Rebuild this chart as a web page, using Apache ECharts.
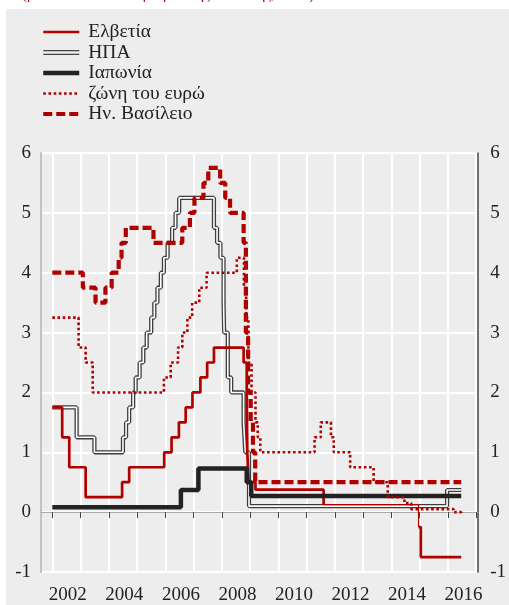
<!DOCTYPE html>
<html>
<head>
<meta charset="utf-8">
<script src="https://cdn.jsdelivr.net/npm/echarts@6/dist/echarts.min.js"></script>
<style>
  html, body { margin: 0; padding: 0; background: #fff; }
  #chart { width: 509px; height: 605px; }
</style>
</head>
<body>
<div id="chart"></div>
<script>
// επιτόκια πολιτικής: [έτος (δεκαδικό), επιτόκιο %] — κάθε τιμή ισχύει από εκείνο το σημείο και μετά
const swissRates = [
    [2002.0, 1.75], [2002.35, 1.25], [2002.6, 0.75], [2003.18, 0.25], [2004.47, 0.5],
    [2004.72, 0.75], [2005.96, 1.0], [2006.22, 1.25], [2006.48, 1.5], [2006.72, 1.75],
    [2006.96, 2.0], [2007.24, 2.25], [2007.48, 2.5], [2007.72, 2.75], [2008.77, 2.5],
    [2008.88, 2.0], [2008.9, 1.0], [2008.95, 0.5], [2009.19, 0.375], [2011.6, 0.125],
    [2014.96, -0.25], [2015.04, -0.75], [2016.47, -0.75]
];
const usRates = [
    [2002.0, 1.75], [2002.86, 1.25], [2003.49, 1.0], [2004.5, 1.25], [2004.61, 1.5],
    [2004.72, 1.75], [2004.86, 2.0], [2004.95, 2.25], [2005.09, 2.5], [2005.22, 2.75],
    [2005.34, 3.0], [2005.5, 3.25], [2005.61, 3.5], [2005.72, 3.75], [2005.84, 4.0],
    [2005.95, 4.25], [2006.08, 4.5], [2006.24, 4.75], [2006.36, 5.0], [2006.49, 5.25],
    [2007.72, 4.75], [2007.83, 4.5], [2007.95, 4.25], [2008.06, 3.5], [2008.08, 3.0],
    [2008.21, 2.25], [2008.33, 2.0], [2008.77, 1.5], [2008.83, 1.0], [2008.96, 0.1],
    [2015.97, 0.37], [2016.47, 0.37]
];
const japanRates = [
    [2002.0, 0.08], [2006.55, 0.37], [2007.17, 0.73], [2008.88, 0.5], [2009.04, 0.27],
    [2016.47, 0.27]
];
const euroRates = [
    [2002.0, 3.25], [2002.93, 2.75], [2003.18, 2.5], [2003.43, 2.0], [2005.95, 2.25],
    [2006.19, 2.5], [2006.45, 2.75], [2006.6, 3.0], [2006.78, 3.25], [2006.95, 3.5],
    [2007.2, 3.75], [2007.46, 4.0], [2008.53, 4.25], [2008.78, 3.75], [2008.86, 3.25],
    [2008.94, 2.5], [2009.05, 2.0], [2009.19, 1.5], [2009.27, 1.25], [2009.36, 1.0],
    [2011.28, 1.25], [2011.5, 1.5], [2011.86, 1.25], [2011.96, 1.0], [2012.54, 0.75],
    [2013.37, 0.5], [2013.87, 0.25], [2014.46, 0.15], [2014.7, 0.05], [2016.2, 0.0],
    [2016.47, -0.02]
];
const ukRates = [
    [2002.0, 4.0], [2003.08, 3.75], [2003.53, 3.5], [2003.88, 3.75], [2004.1, 4.0],
    [2004.35, 4.25], [2004.45, 4.5], [2004.6, 4.75], [2005.58, 4.5], [2006.6, 4.75],
    [2006.87, 5.0], [2007.03, 5.25], [2007.35, 5.5], [2007.52, 5.75], [2007.94, 5.5],
    [2008.12, 5.25], [2008.29, 5.0], [2008.77, 4.5], [2008.85, 3.0], [2008.93, 2.0],
    [2009.02, 1.5], [2009.1, 1.0], [2009.18, 0.5], [2016.47, 0.5]
];

const names = ['Ελβετία', 'ΗΠΑ', 'Ιαπωνία', 'ζώνη του ευρώ', 'Ην. Βασίλειο'];
const yearTicks = [2002, 2003, 2004, 2005, 2006, 2007, 2008, 2009, 2010, 2011, 2012, 2013, 2014, 2015, 2016, 2017];
const yearLabels = [2002, 2004, 2006, 2008, 2010, 2012, 2014, 2016];

const RED = '#b00000';
const FONT = 'Liberation Serif';

// το τμήμα 2011-2014 της Ελβετίας είναι λεπτότερο
const iThin = swissRates.findIndex(p => p[0] === 2011.6);
const iThick = swissRates.findIndex(p => p[0] === 2014.96);

function stepLine(name, data, color, width, type, z) {
    return {
        name: name,
        type: 'line',
        step: 'end',
        symbol: 'none',
        data: data,
        z: z,
        lineStyle: { color: color, width: width, type: type || 'solid', cap: 'butt' },
        itemStyle: { color: color },
        emphasis: { disabled: true }
    };
}

const chart = echarts.init(document.getElementById('chart'));

const option = {
    backgroundColor: '#ededed',
    animation: false,
    title: {
        text: '(βασικά επιτόκια νομισματικής πολιτικής, σε %)',
        left: 22,
        top: -12.5,
        padding: 0,
        textStyle: { fontFamily: FONT, fontSize: 15, fontWeight: 'normal', color: RED }
    },
    graphic: [
        { type: 'rect', left: 0, top: 0, shape: { width: 509, height: 9 }, style: { fill: '#fff' }, z: -1 },
        { type: 'rect', left: 0, top: 0, shape: { width: 6, height: 605 }, style: { fill: '#fff' }, z: -1 }
    ],
    legend: {
        orient: 'vertical',
        left: 41,
        top: 22,
        padding: 0,
        itemWidth: 36,
        itemHeight: 14,
        itemGap: 0.5,
        selectedMode: false,
        itemStyle: { opacity: 0 },
        data: [
            { name: names[0], lineStyle: { width: 2.7 } },
            {
                name: names[1],
                icon: 'path://M0,0H36V1.3H0Z M0,3.7H36V5H0Z M0,-4.5H0.01V9.5H0Z',
                itemStyle: { color: '#444', opacity: 1 }
            },
            { name: names[2], lineStyle: { width: 4.5 } },
            { name: names[3], lineStyle: { width: 2.6, type: [2.6, 2.6] } },
            { name: names[4], lineStyle: { width: 4.2, type: [9, 4] } }
        ],
        textStyle: { fontFamily: FONT, fontSize: 19.5, lineHeight: 20, color: '#222', padding: [0, 0, 0, 4] }
    },
    grid: { left: 41, right: 25, top: 153, bottom: 32, containLabel: false },
    xAxis: {
        type: 'value',
        min: 2001.6,
        max: 2017.07,
        offset: 3,
        axisLine: { show: true, lineStyle: { color: '#aaa', width: 1 } },
        axisTick: { show: true, customValues: yearTicks, length: 6, lineStyle: { color: '#444', width: 1 } },
        axisLabel: {
            customValues: yearLabels.map(y => y + 0.55),
            formatter: v => String(Math.floor(v)),
            fontFamily: FONT, fontSize: 19, color: '#222', margin: 11
        },
        splitLine: { show: true, lineStyle: { color: '#fff', width: 2 } }
    },
    yAxis: [
        {
            type: 'value', min: -1, max: 6, interval: 1,
            axisLine: { show: true, lineStyle: { color: '#c2c2c2', width: 2 } },
            axisTick: { show: false },
            axisLabel: { fontFamily: FONT, fontSize: 19, color: '#222', margin: 10 },
            splitLine: { show: true, lineStyle: { color: '#fff', width: 2 } }
        },
        {
            type: 'value', min: -1, max: 6, interval: 1, position: 'right',
            axisLine: { show: true, lineStyle: { color: '#444', width: 1.5 } },
            axisTick: { show: false },
            axisLabel: { fontFamily: FONT, fontSize: 19, color: '#222', margin: 12 },
            splitLine: { show: false }
        }
    ],
    series: [
        stepLine(names[1], usRates, '#3d3d3d', 4.2, 'solid', 2),
        stepLine(names[1], usRates, '#ffffff', 1.6, 'solid', 2),
        stepLine(names[0], swissRates.slice(0, iThin + 1), RED, 2.7, 'solid', 3),
        stepLine(names[0], swissRates.slice(iThin, iThick + 1), RED, 1.2, 'solid', 3),
        stepLine(names[0], swissRates.slice(iThick), RED, 2.7, 'solid', 3),
        stepLine(names[2], japanRates, '#222', 4.5, 'solid', 4),
        stepLine(names[3], euroRates, RED, 2.6, [2.6, 2.6], 5),
        stepLine(names[4], ukRates, RED, 4.2, [9, 4], 6)
    ]
};

chart.setOption(option);
</script>
</body>
</html>
